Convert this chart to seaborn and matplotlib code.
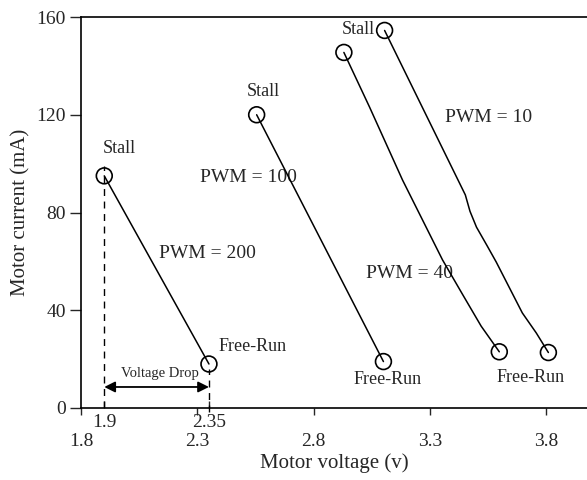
import matplotlib
matplotlib.use("Agg")
import matplotlib.pyplot as plt
import seaborn as sns
import pandas as pd

# Motor voltage (V) / current (mA) traces from stall to free-run for each PWM setting
pwm200_v = [1.90, 2.35]
pwm200_i = [95.0, 18.0]
pwm100_v = [2.555, 3.10]
pwm100_i = [120.0, 19.0]
pwm40_v = [2.93, 3.040, 3.182, 3.354, 3.440, 3.520, 3.598]
pwm40_i = [145.5, 123.2, 93.3, 60.6, 46.5, 33.5, 23.0]
pwm10_v = [3.105, 3.452, 3.472, 3.500, 3.545, 3.585, 3.697, 3.757, 3.809]
pwm10_i = [154.5, 87.2, 80.5, 74.0, 66.5, 59.7, 38.9, 30.7, 22.7]

series_names = ["PWM = 200", "PWM = 100", "PWM = 40", "PWM = 10"]
series_v = [pwm200_v, pwm100_v, pwm40_v, pwm10_v]
series_i = [pwm200_i, pwm100_i, pwm40_i, pwm10_i]

# label positions (data coordinates)
pwm_label_pos = [(2.345, 63.4), (2.52, 94.5), (3.212, 55.2), (3.551, 119.0)]
stall_label_pos = [(1.963, 106.0), (2.585, 129.7), (2.993, 155.0)]
freerun_label_pos = [(2.538, 25.0), (3.118, 11.5), (3.731, 12.3)]

x_major = [1.8, 2.3, 2.8, 3.3, 3.8]
x_minor = [1.9, 2.35]
y_major = [0, 40, 80, 120, 160]

sns.set_style("ticks")
plt.rcParams["font.family"] = ["Liberation Serif", "DejaVu Serif"]

fig = plt.figure(figsize=(5.87, 4.8), dpi=100)
ax = fig.add_axes([81 / 587, 1 - 408 / 480, 1 - 81 / 587, (408 - 17) / 480])

rows = []
for name, vs, cs in zip(series_names, series_v, series_i):
    for k, (v, c) in enumerate(zip(vs, cs)):
        rows.append({"series": name, "order": k, "voltage": v, "current": c})
df = pd.DataFrame(rows)

for name in series_names:
    sub = df[df["series"] == name]
    sns.lineplot(data=sub, x="voltage", y="current", sort=False, estimator=None,
                 color="black", linewidth=1.1, ax=ax)

ends = df.groupby("series", sort=False).apply(
    lambda g: g.iloc[[0, -1]], include_groups=False).reset_index()
sns.scatterplot(data=ends, x="voltage", y="current", marker="o", s=130,
                facecolor="none", edgecolor="black", linewidth=1.2, ax=ax,
                zorder=5)

# voltage drop markers
ax.plot([pwm200_v[0], pwm200_v[0]], [0, 99], color="black", lw=1.0,
        linestyle=(0, (5, 4)))
ax.plot([pwm200_v[1], pwm200_v[1]], [-1.5, 16], color="black", lw=1.0,
        linestyle=(0, (5, 4)), clip_on=False)
ax.annotate("", xy=(pwm200_v[0], 8.6), xytext=(pwm200_v[1], 8.6),
            arrowprops=dict(arrowstyle="<|-|>", color="black", lw=1.3,
                            mutation_scale=16, shrinkA=0, shrinkB=0))
ax.text(2.139, 14.3, "Voltage Drop", fontsize=10.5, ha="center", va="center")

for name, (x, y) in zip(series_names, pwm_label_pos):
    ax.text(x, y, name, fontsize=14, ha="center", va="center", zorder=1)
for x, y in stall_label_pos:
    ax.text(x, y, "Stall", fontsize=13, ha="center", va="center")
for x, y in freerun_label_pos:
    ax.text(x, y, "Free-Run", fontsize=13, ha="center", va="center")

ax.set_xlim(1.8, 3.975)
ax.set_ylim(0, 160)
ax.set_xticks(x_major)
ax.set_xticklabels([f"{v:g}" for v in x_major])
ax.set_xticks(x_minor, minor=True)
ax.set_xticklabels([f"{v:g}" for v in x_minor], minor=True)
ax.set_yticks(y_major)
ax.set_yticklabels([str(v) for v in y_major])

ax.tick_params(axis="x", which="major", direction="out", length=5, width=1,
               pad=13, labelsize=14)
ax.tick_params(axis="x", which="minor", direction="in", length=5, width=1,
               pad=4, labelsize=14)
ax.tick_params(axis="y", which="major", direction="out", length=8, width=1,
               pad=3, labelsize=14)

ax.set_xlabel("Motor voltage (v)", fontsize=15, labelpad=2)
ax.set_ylabel("Motor current (mA)", fontsize=15, labelpad=4)

for side in ["left", "bottom", "top"]:
    ax.spines[side].set_linewidth(1.2)
    ax.spines[side].set_color("black")
ax.spines["right"].set_visible(False)

fig.savefig("out.png", dpi=100)
